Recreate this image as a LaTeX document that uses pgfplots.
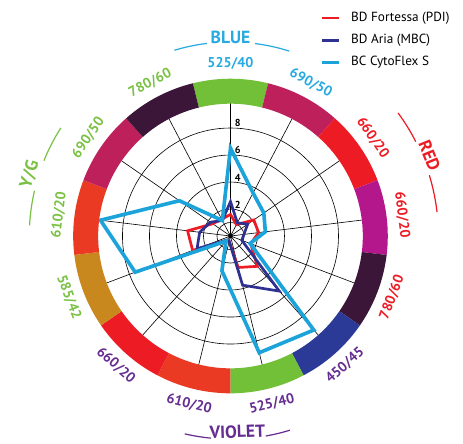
\documentclass[border=0pt]{standalone}
\usepackage{fontspec}
\setmainfont{PT Sans}
\usepackage{pgfplots}
\pgfplotsset{compat=1.18}
\usepgfplotslibrary{polar}
\usetikzlibrary{calc}

% series colours
\definecolor{cFort}{RGB}{237,28,36}
\definecolor{cAria}{RGB}{46,49,146}
\definecolor{cCyto}{RGB}{28,164,218}
% laser group colours
\definecolor{gBlue}{RGB}{39,170,225}
\definecolor{gRed}{RGB}{237,28,36}
\definecolor{gViolet}{RGB}{102,45,145}
\definecolor{gYG}{RGB}{122,193,67}
% filter ring colours
\definecolor{rGreen}{RGB}{114,191,56}
\definecolor{rRose}{RGB}{190,32,92}
\definecolor{rRed}{RGB}{237,28,36}
\definecolor{rMagenta}{RGB}{180,22,140}
\definecolor{rPlum}{RGB}{60,22,56}
\definecolor{rBlue}{RGB}{43,58,150}
\definecolor{rOrange}{RGB}{234,58,36}
\definecolor{rOchre}{RGB}{200,136,30}

% 13 detector channels, one spoke each (angle in degrees, value)
\pgfplotstableread{
angle  r
90     1.6
62.31  0.95
34.62  2.1
6.92   2.1
339.23 1.6
311.54 3.0
283.85 2.4
256.15 0.4
228.46 0.5
200.77 3.0
173.08 3.2
145.38 1.6
117.69 1.4
90     1.6
62.31  0.95
}\fortessa
\pgfplotstableread{
angle  r
90     2.55
62.31  1.1
34.62  1.55
6.92   1.0
339.23 0.9
311.54 5.45
283.85 3.75
256.15 0.4
228.46 0.4
200.77 2.65
173.08 2.3
145.38 1.8
117.69 1.3
90     2.55
62.31  1.1
}\aria
\pgfplotstableread{
angle  r
90     6.5
62.31  3.6
34.62  3.0
6.92   2.6
339.23 1.55
311.54 9.3
283.85 8.9
256.15 2.65
228.46 0.5
200.77 7.55
173.08 9.7
145.38 4.6
117.69 1.3
90     6.5
62.31  3.6
}\cyto

\begin{document}
\begin{tikzpicture}
\begin{polaraxis}[
  scale only axis, width=200pt, height=200pt,
  at={(0,0)}, anchor=center,
  xmin=0, xmax=360, ymin=0, ymax=10,
  xtick={90,62.31,34.62,6.92,339.23,311.54,283.85,256.15,228.46,200.77,173.08,145.38,117.69},
  ytick={1,2,4,6,8},
  xticklabels={}, yticklabels={},
  grid=major,
  major grid style={black, line width=0.45pt},
  axis line style={draw=none},
  tick style={draw=none},
  clip=false,
  legend style={at={(axis cs:68.34,18.02)}, anchor=north west, draw=none, fill=none,
    inner sep=0pt, font=\fontsize{9.8}{9.8}\selectfont, row sep=5pt, column sep=6.5pt,
    nodes={inner sep=1pt, text height=7.3pt, text depth=2.2pt}},
  legend cell align=left,
  legend image code/.code={\draw[#1] (0pt,0pt) -- (12.5pt,0pt);},
]
\addplot[cFort, line width=2pt, line join=miter, miter limit=5] table[x=angle,y=r] {\fortessa};
\addlegendentry{BD Fortessa (PDI)}
\addplot[cAria, line width=2pt, line join=miter, miter limit=5] table[x=angle,y=r] {\aria};
\addlegendentry{BD Aria (MBC)}
\addplot[cCyto, line width=2.7pt, line join=miter, miter limit=5] table[x=angle,y=r] {\cyto};
\addlegendentry{BC CytoFlex S}
\coordinate (O) at (axis cs:0,0);
\end{polaraxis}

% filter ring, one segment per channel
\foreach \a/\c in {90/rGreen,62.31/rRose,34.62/rRed,6.92/rMagenta,-20.77/rPlum,
  -48.46/rBlue,-76.15/rGreen,-103.85/rOrange,-131.54/rRed,-159.23/rOchre,
  173.08/rOrange,145.38/rRose,117.69/rPlum}{
  \fill[\c] ($(O)+({\a+13.846}:98pt)$) arc[start angle={\a+13.846}, end angle={\a-13.846}, radius=98pt]
    -- ($(O)+({\a-13.846}:116.5pt)$) arc[start angle={\a-13.846}, end angle={\a+13.846}, radius=116.5pt] -- cycle;
}

% scale numbers along the top spoke
\foreach \v in {2,4,6,8}{
  \node[anchor=south west, inner sep=0.5pt, xshift=2.6pt, font=\bfseries\fontsize{7.5}{7.5}\selectfont]
    at ($(O)+(90:\v*10pt)$) {\v};
}

% filter names
\foreach \a/\t/\c/\r in {90/{525/40}/gBlue/0, 62.31/{690/50}/gBlue/-27.69,
  34.62/{660/20}/gRed/-55.38, 6.92/{660/20}/gRed/-83.08, -20.77/{780/60}/gRed/69.23,
  -48.46/{450/45}/gViolet/41.54, -76.15/{525/40}/gViolet/13.85, -103.85/{610/20}/gViolet/-13.85,
  -131.54/{660/20}/gViolet/-41.54, -159.23/{585/42}/gYG/-69.23, 173.08/{610/20}/gYG/83.08,
  145.38/{690/50}/gYG/55.38, 117.69/{780/60}/gYG/27.69}{
  \node[\c, rotate=\r, inner sep=0pt, font=\bfseries\fontsize{10.5}{10.5}\selectfont]
    at ($(O)+(\a:128pt)$) {\t};
}

% laser groups
\begin{scope}[line width=0.9pt]
\draw[gBlue] ($(O)+(106.8:143.7pt)$) arc[start angle=106.8, end angle=97, radius=143.7pt];
\draw[gBlue] ($(O)+(82.7:143.7pt)$) arc[start angle=82.7, end angle=72.4, radius=143.7pt];
\draw[gRed] ($(O)+(36.3:154pt)$) arc[start angle=36.3, end angle=27, radius=154pt];
\draw[gRed] ($(O)+(17:154pt)$) arc[start angle=17, end angle=6.6, radius=154pt];
\draw[gViolet] ($(O)+(-103:150.4pt)$) arc[start angle=-103, end angle=-95.5, radius=150.4pt];
\draw[gViolet] ($(O)+(-80:150.4pt)$) arc[start angle=-80, end angle=-73, radius=150.4pt];
\draw[gYG] ($(O)+(147.5:149pt)$) arc[start angle=147.5, end angle=158, radius=149pt];
\draw[gYG] ($(O)+(167:149pt)$) arc[start angle=167, end angle=177, radius=149pt];
\end{scope}
\begin{scope}[font=\bfseries\fontsize{13}{13}\selectfont, inner sep=0pt]
\node[gBlue] at ($(O)+(90:147pt)$) {BLUE};
\node[gRed, rotate=-68] at ($(O)+(22:159pt)$) {RED};
\node[gViolet, rotate=2] at ($(O)+(-88:145pt)$) {VIOLET};
\node[gYG, rotate=73] at ($(O)+(163:155.5pt)$) {Y/G};
\end{scope}

\path[use as bounding box] ($(O)+(-170.7pt,-153.3pt)$) rectangle ($(O)+(172.2pt,174.8pt)$);
\end{tikzpicture}
\end{document}
